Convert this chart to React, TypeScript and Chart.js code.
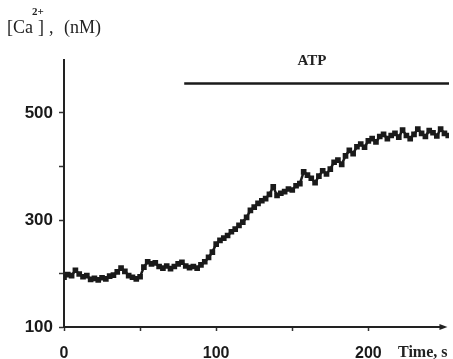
import React, { useEffect, useRef } from "react";
import { Chart, registerables } from "chart.js";

Chart.register(...registerables);

const timeSec = [
  0, 2.5, 5, 7.5, 10, 12.5, 15, 17.5, 20, 22.5,
  25, 27.5, 30, 32.5, 35, 37.5, 40, 42.5, 45, 47.5,
  50, 52.5, 55, 57.5, 60, 62.5, 65, 67.5, 70, 72.5,
  75, 77.5, 80, 82.5, 85, 87.5, 90, 92.5, 95, 97.5,
  100, 102.5, 105, 107.5, 110, 112.5, 115, 117.5, 120, 122.5,
  125, 127.5, 130, 132.5, 135, 137.5, 140, 142.5, 145, 147.5,
  150, 152.5, 155, 157.5, 160, 162.5, 165, 167.5, 170, 172.5,
  175, 177.5, 180, 182.5, 185, 187.5, 190, 192.5, 195, 197.5,
  200, 202.5, 205, 207.5, 210, 212.5, 215, 217.5, 220, 222.5,
  225, 227.5, 230, 232.5, 235, 237.5, 240, 242.5, 245, 247.5,
  250, 252.5,
];

const caConc = [
  193, 198, 196, 206, 199, 194, 196, 189, 191, 188,
  192, 190, 195, 197, 203, 210, 204, 196, 193, 190,
  194, 212, 222, 218, 220, 213, 210, 214, 209, 213,
  218, 221, 214, 211, 213, 210, 216, 222, 230, 240,
  255, 262, 266, 271, 278, 283, 290, 296, 305, 318,
  324, 331, 336, 340, 348, 362, 346, 350, 353, 358,
  356, 364, 368, 390, 384, 378, 370, 382, 392, 386,
  395, 408, 412, 404, 420, 430, 424, 437, 442, 436,
  448, 452, 446, 456, 460, 452, 458, 462, 455, 468,
  458, 452, 460, 470, 462, 456, 467, 463, 457, 470,
  462, 458,
];

const atpStartEnd = [79, 253];
const atpLevel = 555;
const atpLabel = "ATP";

const yLabeled = [100, 300, 500];
const xLabeled = [0, 100, 200];
const xAxisLabel = "Time, s";

const X_MIN = 0;
const X_MAX = 253;
const X_ARROW = 250;
const Y_MIN = 100;
const Y_MAX = 600;

const textPlugin = {
  id: "annotTexts",
  afterDraw(chart: any) {
    const ctx = chart.ctx;
    const xs = chart.scales.x;
    const ys = chart.scales.y;
    ctx.save();
    // x axis line with arrow
    const x0 = xs.getPixelForValue(X_MIN);
    const x1 = xs.getPixelForValue(X_ARROW);
    const yAx = ys.getPixelForValue(Y_MIN);
    ctx.strokeStyle = "#222";
    ctx.lineWidth = 2;
    ctx.beginPath();
    ctx.moveTo(x0 - 1, yAx);
    ctx.lineTo(x1, yAx);
    ctx.stroke();
    ctx.fillStyle = "#222";
    ctx.beginPath();
    ctx.moveTo(x1 + 3, yAx);
    ctx.lineTo(x1 - 5, yAx - 3);
    ctx.lineTo(x1 - 5, yAx + 3);
    ctx.closePath();
    ctx.fill();

    // Y axis title
    ctx.fillStyle = "#222";
    ctx.textBaseline = "alphabetic";
    ctx.textAlign = "left";
    ctx.font = "18px 'Liberation Serif', serif";
    ctx.fillText("[Ca", 7, 33);
    ctx.fillText("]", 38, 33);
    ctx.fillText(",", 49, 33);
    ctx.fillText("(nM)", 64, 33);
    ctx.font = "bold 11px 'Liberation Serif', serif";
    ctx.fillText("2+", 32, 15);

    // ATP label
    ctx.font = "bold 15px 'Liberation Serif', serif";
    ctx.textAlign = "center";
    ctx.fillText(atpLabel, xs.getPixelForValue(163), 65);

    // X axis title
    ctx.font = "bold 16px 'Liberation Serif', serif";
    ctx.textAlign = "left";
    ctx.fillText(xAxisLabel, 398, 357);
    ctx.restore();
  },
};

export default function App() {
  const ref = useRef<HTMLCanvasElement>(null);

  useEffect(() => {
    if (!ref.current) return;
    const chart = new Chart(ref.current, {
      type: "line",
      data: {
        datasets: [
          {
            data: timeSec.map((t, i) => ({ x: t, y: caConc[i] })),
            borderColor: "#1a1a1a",
            backgroundColor: "#1a1a1a",
            borderWidth: 2.5,
            pointStyle: "rect",
            pointRadius: 4,
            pointBorderWidth: 0,
            tension: 0,
          },
          {
            data: atpStartEnd.map((t) => ({ x: t, y: atpLevel })),
            borderColor: "#1a1a1a",
            borderWidth: 2.5,
            pointRadius: 0,
          },
        ],
      },
      options: {
        animation: false,
        responsive: false,
        maintainAspectRatio: false,
        layout: { padding: { top: 59.5, right: 1, left: 0, bottom: 0 } },
        plugins: { legend: { display: false }, tooltip: { enabled: false } },
        scales: {
          x: {
            type: "linear",
            min: X_MIN,
            max: X_MAX,
            afterFit: (s: any) => {
              s.height = 32;
              s.paddingLeft = 0;
              s.paddingRight = 0;
            },
            border: { display: false },
            grid: {
              drawOnChartArea: false,
              drawTicks: true,
              tickLength: 4,
              tickWidth: 1.5,
              tickColor: (c: any) =>
                c.tick && c.tick.value % 50 === 0 && c.tick.value < X_ARROW ? "#333" : "rgba(0,0,0,0)",
            },
            ticks: {
              stepSize: 50,
              autoSkip: false,
              maxRotation: 0,
              padding: 13,
              color: "#1a1a1a",
              font: { family: "'Liberation Sans', Arial, sans-serif", size: 16, weight: "bold" },
              callback: (v: any) => (xLabeled.includes(Number(v)) ? String(v) : ""),
            },
          },
          y: {
            type: "linear",
            min: Y_MIN,
            max: Y_MAX,
            afterFit: (s: any) => {
              s.width = 64;
              s.paddingTop = 0;
              s.paddingBottom = 0;
            },
            border: { display: true, color: "#222", width: 2 },
            grid: {
              drawOnChartArea: false,
              drawTicks: true,
              tickLength: 5,
              tickWidth: 1.5,
              tickColor: (c: any) => (c.tick && c.tick.value < Y_MAX ? "#333" : "rgba(0,0,0,0)"),
            },
            ticks: {
              stepSize: 100,
              autoSkip: false,
              padding: 6,
              color: "#1a1a1a",
              font: { family: "'Liberation Sans', Arial, sans-serif", size: 17, weight: "bold" },
              callback: (v: any) => (yLabeled.includes(Number(v)) ? String(v) : ""),
            },
          },
        },
      },
      plugins: [textPlugin],
    });
    return () => chart.destroy();
  }, []);

  return (
    <div style={{ position: "fixed", left: 0, top: 0, width: 453, height: 359, background: "#fff" }}>
      <canvas ref={ref} width={453} height={359} style={{ width: 453, height: 359 }} />
    </div>
  );
}
